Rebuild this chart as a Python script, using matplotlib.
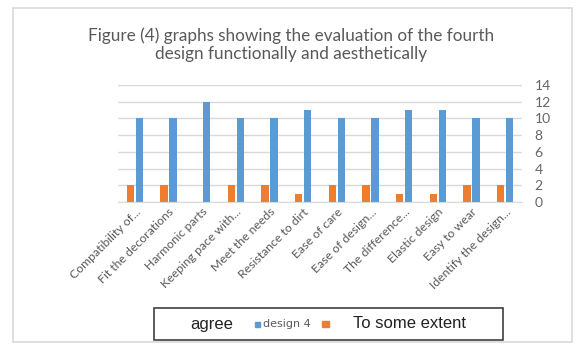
import matplotlib
matplotlib.use("Agg")
import matplotlib.pyplot as plt
from matplotlib.patches import Rectangle
import numpy as np

categories = ["Compatibility of...", "Fit the decorations", "Harmonic parts",
              "Keeping pace with...", "Meet the needs", "Resistance to dirt",
              "Ease of care", "Ease of design...", "The difference...",
              "Elastic design", "Easy to wear", "Identify the design..."]
some_extent = [2, 2, 0, 2, 2, 1, 2, 2, 1, 1, 2, 2]
design4 = [10, 10, 12, 10, 10, 11, 10, 10, 11, 11, 10, 10]

BLUE = "#5b9bd5"
ORANGE = "#ed7d31"
GRAY = "#595959"

W, H = 576, 344
fig = plt.figure(figsize=(W / 100, H / 100), dpi=100)

# outer chart frame
fig.patches.append(Rectangle((13 / W, 1 - 342 / H), (572 - 13) / W, (342 - 8) / H,
                             transform=fig.transFigure, fill=False,
                             edgecolor="#d9d9d9", linewidth=1.2))

ax = fig.add_axes([118 / W, 1 - 202 / H, (522 - 118) / W, (202 - 85) / H])
x = np.arange(len(categories))
bw = 0.22
ax.bar(x - bw / 2 - 0.02, some_extent, bw, color=ORANGE)
ax.bar(x + bw / 2 + 0.02, design4, bw, color=BLUE)

ax.set_xlim(-0.5, len(categories) - 0.5)
ax.set_ylim(0, 14)
ax.set_yticks(range(0, 15, 2))
ax.yaxis.tick_right()
ax.tick_params(axis="y", length=0, pad=9, labelsize=10, labelcolor="#666666")
ax.tick_params(axis="x", length=0, pad=3)
for lbl in ax.get_yticklabels():
    lbl.set_family("Lato")
ax.set_xticks(x)
ax.set_xticklabels(categories, rotation=45, ha="right", rotation_mode="anchor",
                   fontsize=8.8, color=GRAY, family="Lato")
ax.grid(axis="y", color="#d9d9d9", linewidth=1)
ax.set_axisbelow(True)
for s in ["top", "left", "right"]:
    ax.spines[s].set_visible(False)
ax.spines["bottom"].set_color("#d9d9d9")

fig.text(291 / W, 1 - 45 / H, "Figure (4) graphs showing the evaluation of the fourth\n"
         "design functionally and aesthetically", ha="center", va="center",
         fontsize=12.3, color=GRAY, family="Lato", linespacing=1.15)

# legend box drawn by hand
fig.patches.append(Rectangle((154 / W, 1 - 340 / H), (503 - 154) / W, (340 - 308) / H,
                             transform=fig.transFigure, fill=False,
                             edgecolor="#404040", linewidth=1.2))
ly = 1 - 324 / H
fig.text(190 / W, ly, "agree", ha="left", va="center", fontsize=12,
         family="Liberation Sans", color="#222222")
fig.patches.append(Rectangle((255 / W, ly - 2.5 / H), 5 / W, 5 / H,
                             transform=fig.transFigure, color=BLUE))
fig.text(263 / W, ly, "design 4", ha="left", va="center", fontsize=8,
         family=["Liberation Sans Narrow", "DejaVu Sans"], color=GRAY)
fig.patches.append(Rectangle((322 / W, ly - 3 / H), 7 / W, 6 / H,
                             transform=fig.transFigure, color=ORANGE))
fig.text(353 / W, ly, "To some extent", ha="left", va="center", fontsize=12,
         family="Liberation Sans", color="#222222")

fig.savefig("out.png", dpi=100)
